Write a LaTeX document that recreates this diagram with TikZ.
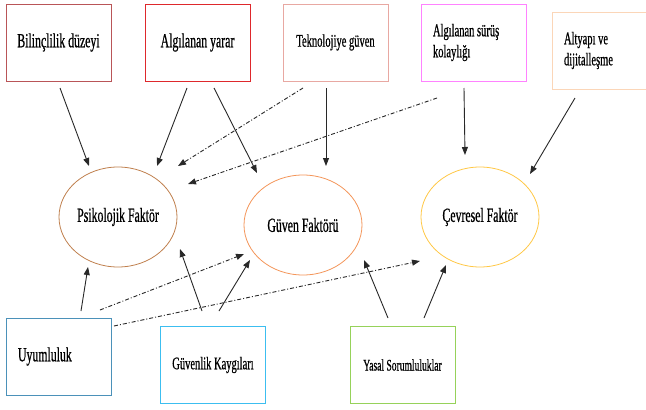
\documentclass[tikz,border=0pt]{standalone}
\usepackage{fontspec}
\setmainfont{Liberation Serif}[FakeStretch=0.59,FakeBold=0.6]
\usetikzlibrary{arrows.meta,shapes.geometric}
\definecolor{cBil}{RGB}{185,85,88}
\definecolor{cYar}{RGB}{222,40,44}
\definecolor{cTek}{RGB}{232,168,162}
\definecolor{cSur}{RGB}{255,130,255}
\definecolor{cAlt}{RGB}{251,214,184}
\definecolor{cPsi}{RGB}{192,128,78}
\definecolor{cGuv}{RGB}{244,150,90}
\definecolor{cCev}{RGB}{255,200,70}
\definecolor{cUyu}{RGB}{75,145,185}
\definecolor{cGvk}{RGB}{60,190,240}
\definecolor{cYas}{RGB}{150,210,90}
\definecolor{cArr}{RGB}{40,40,40}
\begin{document}
\begin{tikzpicture}[x=1pt,y=-1pt,
  box/.style={draw,line width=0.8pt,minimum width=105pt,minimum height=77pt,inner sep=0pt,align=center},
  lbox/.style={box,text width=81pt,align=flush left,inner xsep=12pt},
  fac/.style={draw,ellipse,line width=0.8pt,minimum width=118pt,minimum height=100pt,inner sep=0pt},
  big/.style={font=\fontsize{20}{21}\selectfont},
  mid/.style={font=\fontsize{17.8}{21}\selectfont},
  sml/.style={font=\fontsize{16.2}{21}\selectfont},
  arr/.style={draw=cArr,line width=0.9pt,-{Triangle[length=8pt,width=6pt]}},
  dd/.style={arr,dash pattern=on 4pt off 2pt on 1pt off 2pt}]
\useasboundingbox (0,0) rectangle (646,410);
\fill[white] (0,0) rectangle (646,410);

% top boxes
\node[box,big,draw=cBil] (bil) at (58.5,42.5) {Bilinçlilik düzeyi};
\node[box,big,draw=cYar] (yar) at (197.5,42.5) {Algılanan yarar};
\node[box,mid,draw=cTek] (tek) at (335.5,42.5) {\raisebox{4pt}{Teknolojiye güven}};
\node[lbox,mid,draw=cSur] (sur) at (473.5,42.5) {Algılanan sürüş\\kolaylığı};
\node[lbox,mid,draw=cAlt] (alt) at (604.5,50.5) {Altyapı ve\\dijitalleşme};

% factors
\node[fac,big,draw=cPsi] (psi) at (118,217) {Psikolojik Faktör};
\node[fac,big,draw=cGuv] (guv) at (303,225) {Güven Faktörü};
\node[fac,big,draw=cCev] (cev) at (480,217) {Çevresel Faktör};

% bottom boxes
\node[lbox,big,draw=cUyu] (uyu) at (58.5,356.5) {Uyumluluk};
\node[box,mid,draw=cGvk] (gvk) at (213,365) {Güvenlik Kaygıları};
\node[box,sml,draw=cYas] (yas) at (402.5,365) {Yasal Sorumluluklar};

% connector end points
\coordinate (s1) at (60,88);   \coordinate (e1) at (89,166);
\coordinate (s2) at (187,88);  \coordinate (e2) at (157,166);
\coordinate (s3) at (214,88);  \coordinate (e3) at (257,173);
\coordinate (s4) at (303,88);  \coordinate (e4) at (178,166);
\coordinate (s5) at (326,88);  \coordinate (e5) at (326,166);
\coordinate (s6) at (437,98);  \coordinate (e6) at (188,184);
\coordinate (s7) at (464,88);  \coordinate (e7) at (465,155);
\coordinate (s8) at (575,98);  \coordinate (e8) at (530,174);
\coordinate (s9) at (81,311);  \coordinate (e9) at (88,267);
\coordinate (s10) at (100,310); \coordinate (e10) at (244,254);
\coordinate (s11) at (114,326); \coordinate (e11) at (420,261);
\coordinate (s12) at (202,311); \coordinate (e12) at (180,249);
\coordinate (s13) at (219,311); \coordinate (e13) at (250,260);
\coordinate (s14) at (388,318); \coordinate (e14) at (364,260);
\coordinate (s15) at (424,318); \coordinate (e15) at (446,265);

\draw[arr] (s1) -- (e1);
\draw[arr] (s2) -- (e2);
\draw[arr] (s3) -- (e3);
\draw[dd]  (s4) -- (e4);
\draw[arr] (s5) -- (e5);
\draw[dd]  (s6) -- (e6);
\draw[arr] (s7) -- (e7);
\draw[arr] (s8) -- (e8);
\draw[arr] (s9) -- (e9);
\draw[dd]  (s10) -- (e10);
\draw[dd]  (s11) -- (e11);
\draw[arr] (s12) -- (e12);
\draw[arr] (s13) -- (e13);
\draw[arr] (s14) -- (e14);
\draw[arr] (s15) -- (e15);
\end{tikzpicture}
\end{document}
